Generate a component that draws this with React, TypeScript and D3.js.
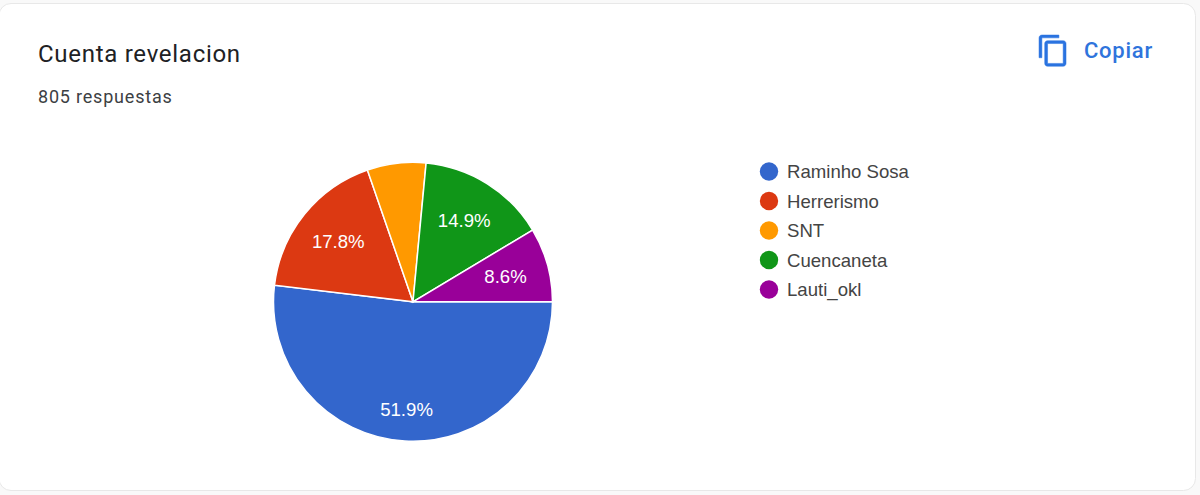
import React from 'react';
import * as d3 from 'd3';

const width = 1200;
const height = 495;

const names = ['Raminho Sosa', 'Herrerismo', 'SNT', 'Cuencaneta', 'Lauti_okl'];
const shares = [51.9, 17.8, 6.8, 14.9, 8.6];
const colors = ['#3366cc', '#dc3912', '#ff9900', '#109618', '#990099'];

// slices under this share get no label, same as the forms summary
const labelMinShare = 7;

const cx = 413;
const cy = 301.8;
const radius = 139.5;

const iconPath =
    'M16 1H4c-1.1 0-2 .9-2 2v14h2V3h12V1zm3 4H8c-1.1 0-2 .9-2 2v14c0 1.1.9 2 2 2h11c1.1 0 2-.9 2-2V7c0-1.1-.9-2-2-2zm0 16H8V7h11v14z';

const labelFont = '"Liberation Sans", Arial, sans-serif';
const uiFont = 'Roboto, sans-serif';

export default function App() {
    // pie starts at 3 o'clock and goes clockwise
    const slices = d3
        .pie<number>()
        .sort(null)
        .startAngle(Math.PI / 2)
        .endAngle(Math.PI / 2 + Math.PI * 2)(shares);

    const arc = d3
        .arc<d3.PieArcDatum<number>>()
        .innerRadius(0)
        .outerRadius(radius);

    // the big slice label sits further out than the others
    const labelArc = (d: d3.PieArcDatum<number>) => {
        const r = d.value > 50 ? 108 : 96;
        return d3
            .arc<d3.PieArcDatum<number>>()
            .innerRadius(r)
            .outerRadius(r)
            .centroid(d);
    };

    const legendY = d3
        .scalePoint<string>()
        .domain(names)
        .range([171.5, 289.5]);

    return (
        <svg
            width={width}
            height={height}
            viewBox={`0 0 ${width} ${height}`}
            style={{ position: 'absolute', left: 0, top: 0, background: '#f9f9f9' }}
        >
            <rect x={-1} y={3.5} width={1196.5} height={487} rx={12} fill="#ffffff" stroke="#e8e8e8" />

            <text x={38} y={62} fontFamily={uiFont} fontSize={24} letterSpacing={0.72} fill="#202124">
                Cuenta revelacion
            </text>
            <text x={38} y={103} fontFamily={uiFont} fontSize={18} letterSpacing={0.8} fill="#3c4043">
                805 respuestas
            </text>

            <path
                d={iconPath}
                transform="translate(1036.2,33.6) scale(1.42)"
                fill="#2a73e0"
                stroke="#2a73e0"
                strokeWidth={0.35}
            />
            <text x={1084} y={58} fontFamily={uiFont} fontSize={22} fontWeight={500} letterSpacing={0.75} fill="#2f74dc">
                Copiar
            </text>

            <g transform={`translate(${cx},${cy})`}>
                {slices.map((d, i) => (
                    <path key={names[i]} d={arc(d) ?? ''} fill={colors[i]} stroke="#ffffff" strokeWidth={1.5} />
                ))}
                {slices
                    .filter((d) => d.value >= labelMinShare)
                    .map((d) => {
                        const [x, y] = labelArc(d);
                        return (
                            <text
                                key={d.index}
                                x={x}
                                y={y}
                                dy="0.36em"
                                textAnchor="middle"
                                fontFamily={labelFont}
                                fontSize={18.6}
                                fill="#ffffff"
                            >
                                {d.value.toFixed(1)}%
                            </text>
                        );
                    })}
            </g>

            <g>
                {names.map((name, i) => (
                    <g key={name} transform={`translate(0,${legendY(name)})`}>
                        <circle cx={769} cy={0} r={9.2} fill={colors[i]} />
                        <text x={787} y={0} dy="0.36em" fontFamily={labelFont} fontSize={18.6} fill="#444444">
                            {name}
                        </text>
                    </g>
                ))}
            </g>
        </svg>
    );
}
